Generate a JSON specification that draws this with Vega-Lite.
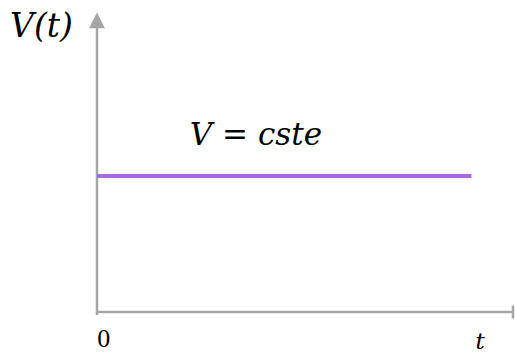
{
  "$schema": "https://vega.github.io/schema/vega-lite/v6.json",
  "width": 515,
  "height": 354,
  "autosize": {"type": "none"},
  "padding": 0,
  "config": {"view": {"stroke": null}},
  "encoding": {
    "x": {"field": "t", "type": "quantitative", "scale": {"domain": [-2.3317, 10.048], "nice": false, "zero": false}, "axis": null},
    "y": {"field": "v", "type": "quantitative", "scale": {"domain": [-1.544, 11.471], "nice": false, "zero": false}, "axis": null}
  },
  "layer": [
    {
      "data": {"values": [
        {"part": "y-axis", "t": 0, "v": -0.11, "t2": 0, "v2": 10.45},
        {"part": "x-axis", "t": 0, "v": 0, "t2": 10, "v2": 0},
        {"part": "end-cap", "t": 10, "v": -0.24, "t2": 10, "v2": 0.24}
      ]},
      "mark": {"type": "rule", "color": "#a6a6a6", "strokeWidth": 2.5},
      "encoding": {"x2": {"field": "t2"}, "y2": {"field": "v2"}}
    },
    {
      "data": {"values": [{"t": 0, "v": 10.72}]},
      "mark": {"type": "point", "shape": "M-1,1L0,-1L1,1Z", "size": 250, "filled": true, "color": "#a6a6a6", "opacity": 1}
    },
    {
      "data": {"values": [{"t": 0, "v": 5, "t2": 9, "v2": 5}]},
      "mark": {"type": "rule", "color": "#a66be0", "strokeWidth": 4},
      "encoding": {"x2": {"field": "t2"}, "y2": {"field": "v2"}}
    },
    {
      "data": {"values": [{"label": "V(t)", "t": -2.09, "v": 10.11}]},
      "mark": {"type": "text", "font": "DejaVu Serif", "fontStyle": "oblique", "fontSize": 33, "align": "left", "baseline": "alphabetic", "color": "#000000"},
      "encoding": {"text": {"field": "label"}}
    },
    {
      "data": {"values": [{"label": "V = cste", "t": 3.82, "v": 6.14}]},
      "mark": {"type": "text", "font": "DejaVu Serif", "fontStyle": "oblique", "fontSize": 31, "align": "center", "baseline": "alphabetic", "color": "#000000"},
      "encoding": {"text": {"field": "label"}}
    },
    {
      "data": {"values": [{"label": "0", "t": 0.16, "v": -1.3}]},
      "mark": {"type": "text", "font": "Liberation Serif", "fontSize": 26, "align": "center", "baseline": "alphabetic", "color": "#000000"},
      "encoding": {"text": {"field": "label"}}
    },
    {
      "data": {"values": [{"label": "t", "t": 9.21, "v": -1.36}]},
      "mark": {"type": "text", "font": "DejaVu Serif", "fontStyle": "oblique", "fontSize": 23, "align": "center", "baseline": "alphabetic", "color": "#000000"},
      "encoding": {"text": {"field": "label"}}
    }
  ]
}
